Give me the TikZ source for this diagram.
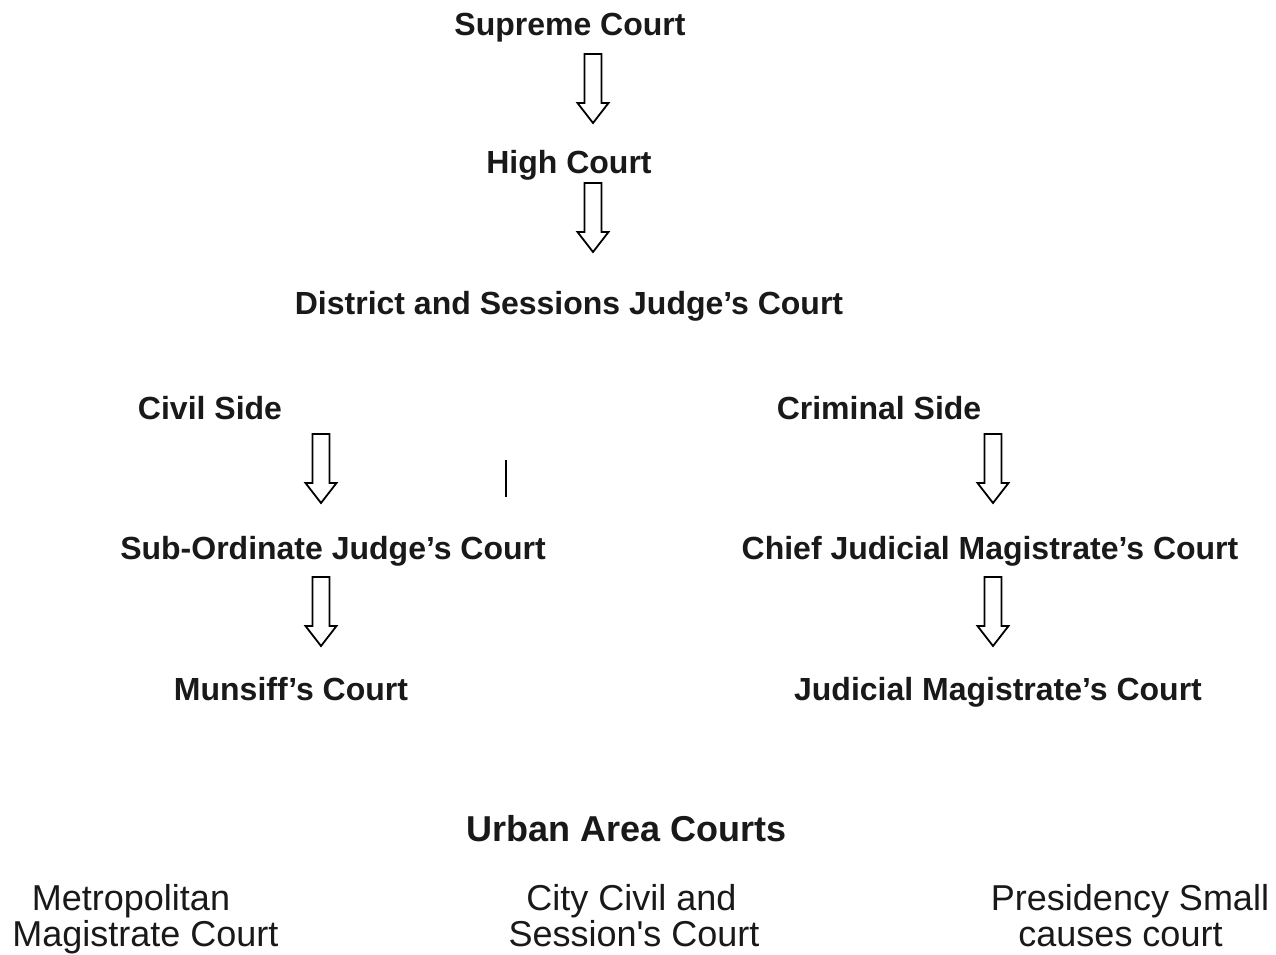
\documentclass[tikz,border=0pt]{standalone}
\usepackage{fontspec}
\setmainfont{Liberation Sans}
\begin{document}
\begin{tikzpicture}[x=1pt,y=-1pt,
  title/.style={font=\fontsize{32}{38}\selectfont\bfseries, anchor=base, inner sep=0pt, text=black!90},
  bigtitle/.style={font=\fontsize{36}{40}\selectfont\bfseries, anchor=base, inner sep=0pt, text=black!90},
  plain/.style={font=\fontsize{36}{38}\selectfont, anchor=base, inner sep=0pt, text=black!90},
  hollowarrow/.pic={\draw[line width=1.8pt, line join=miter, fill=white]
     (-8.5,0) -- (8.5,0) -- (8.5,49) -- (15.5,49) -- (0,69) -- (-15.5,49) -- (-8.5,49) -- cycle;}]
\useasboundingbox[fill=white] (0,0) rectangle (1276,954);

\node[title] (sc) at (570,35) {Supreme Court};
\node[title] (hc) at (569,173.5) {High Court};
\node[title] (ds) at (569,314) {District and Sessions Judge's Court};
\node[title] (cs) at (210,419) {Civil Side};
\node[title] (crs) at (879,419) {Criminal Side};
\node[title] (sj) at (333,559) {Sub-Ordinate Judge's Court};
\node[title] (cj) at (990,559) {Chief Judicial Magistrate's Court};
\node[title] (mc) at (291,700) {Munsiff's Court};
\node[title] (jm) at (998,700) {Judicial Magistrate's Court};
\node[bigtitle] (ua) at (627,841) {Urban Area Courts};

\node[plain] (met1) at (131,910) {Metropolitan};
\node[plain] (met2) at (145.5,946) {Magistrate Court};
\node[plain] (city1) at (631.5,910) {City Civil and};
\node[plain] (city2) at (634,946) {Session\textquotesingle s Court};
\node[plain] (pres1) at (1130,910) {Presidency Small};
\node[plain] (pres2) at (1120.5,946) {causes court};

\coordinate (a1) at (593,54);
\coordinate (a2) at (593,183);
\coordinate (a3) at (321,434);
\coordinate (a4) at (993,434);
\coordinate (a5) at (321,577);
\coordinate (a6) at (993,577);
\foreach \c in {a1,a2,a3,a4,a5,a6} \pic at (\c) {hollowarrow};

\coordinate (b1) at (506,460);
\coordinate (b2) at (506,497);
\draw[line width=2.5pt] (b1) -- (b2);
\end{tikzpicture}
\end{document}
